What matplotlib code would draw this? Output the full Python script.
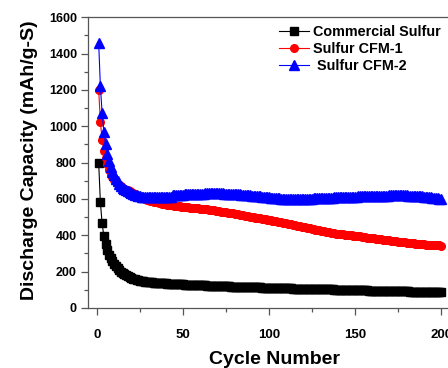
import matplotlib
matplotlib.use("Agg")
import matplotlib.pyplot as plt
from matplotlib.ticker import MultipleLocator

plt.rcParams['font.family'] = ['Liberation Sans', 'DejaVu Sans']
plt.rcParams['font.weight'] = 'bold'

cycles = list(range(1, 201))

commercial = [
    800, 582, 466, 396, 350, 318, 294, 274, 257, 243,
    230, 219, 209, 200, 193, 186, 180, 175, 170, 166,
    162, 159, 156, 153, 151, 149, 147, 145, 144, 143,
    142, 141, 140, 139, 138, 137, 137, 136, 135, 135,
    134, 134, 133, 133, 132, 132, 131, 131, 130, 130,
    129, 129, 128, 128, 127, 127, 126, 126, 125, 125,
    125, 124, 124, 123, 123, 123, 122, 122, 121, 121,
    121, 120, 120, 120, 119, 119, 119, 118, 118, 118,
    117, 117, 117, 116, 116, 116, 115, 115, 115, 114,
    114, 114, 113, 113, 113, 112, 112, 112, 111, 111,
    111, 110, 110, 110, 110, 109, 109, 109, 109, 108,
    108, 108, 108, 107, 107, 107, 107, 106, 106, 106,
    106, 105, 105, 105, 105, 104, 104, 104, 104, 103,
    103, 103, 103, 102, 102, 102, 102, 101, 101, 101,
    101, 100, 100, 100, 100, 99, 99, 99, 99, 98,
    98, 98, 98, 97, 97, 97, 97, 96, 96, 96,
    96, 95, 95, 95, 95, 94, 94, 94, 94, 93,
    93, 93, 93, 92, 92, 92, 92, 91, 91, 91,
    91, 90, 90, 90, 90, 89, 89, 89, 89, 89,
    88, 88, 88, 88, 88, 87, 87, 87, 87, 87,
]

cfm1 = [
    1202, 1025, 925, 865, 825, 790, 762, 740, 722, 706,
    694, 684, 676, 669, 663, 657, 652, 647, 642, 637,
    632, 626, 620, 615, 611, 607, 603, 600, 597, 594,
    591, 588, 586, 583, 581, 579, 577, 575, 573, 571,
    569, 568, 566, 565, 563, 562, 561, 559, 558, 557,
    556, 555, 554, 553, 552, 551, 550, 549, 548, 547,
    546, 545, 544, 543, 541, 540, 539, 537, 536, 534,
    533, 531, 530, 528, 527, 525, 524, 522, 521, 519,
    517, 516, 514, 512, 511, 509, 507, 505, 503, 502,
    500, 498, 497, 495, 493, 491, 490, 488, 486, 485,
    483, 481, 479, 478, 476, 474, 472, 470, 468, 466,
    464, 462, 460, 458, 456, 454, 452, 450, 448, 446,
    444, 442, 440, 438, 436, 434, 432, 430, 428, 426,
    424, 422, 420, 419, 417, 415, 414, 412, 410, 409,
    408, 407, 405, 404, 403, 402, 401, 400, 399, 398,
    396, 395, 394, 392, 391, 390, 388, 387, 386, 384,
    383, 382, 380, 379, 378, 377, 375, 374, 373, 372,
    370, 369, 368, 367, 366, 364, 363, 362, 361, 360,
    359, 358, 357, 356, 355, 354, 353, 352, 351, 350,
    349, 348, 347, 347, 346, 345, 345, 344, 344, 343,
]

cfm2 = [
    1460, 1220, 1075, 970, 900, 850, 808, 775, 750, 730,
    712, 697, 684, 673, 663, 655, 648, 642, 636, 631,
    627, 623, 620, 617, 615, 613, 612, 611, 610, 610,
    609, 609, 609, 609, 609, 610, 610, 610, 610, 611,
    611, 611, 612, 620, 621, 622, 622, 623, 624, 624,
    625, 625, 626, 626, 627, 627, 628, 628, 629, 629,
    630, 630, 631, 631, 631, 632, 632, 632, 632, 632,
    631, 631, 631, 630, 630, 629, 629, 628, 628, 627,
    626, 626, 625, 624, 623, 622, 622, 621, 620, 619,
    618, 617, 616, 615, 614, 613, 612, 611, 610, 609,
    608, 607, 606, 605, 604, 603, 602, 602, 601, 601,
    600, 600, 599, 599, 599, 599, 599, 599, 600, 600,
    600, 601, 601, 602, 602, 603, 603, 604, 604, 605,
    605, 606, 606, 607, 607, 608, 608, 609, 609, 610,
    610, 610, 611, 611, 611, 612, 612, 612, 613, 613,
    613, 614, 614, 614, 615, 615, 615, 616, 616, 616,
    617, 617, 617, 618, 618, 618, 619, 619, 619, 620,
    620, 620, 621, 621, 621, 621, 621, 620, 620, 620,
    619, 619, 618, 618, 617, 617, 616, 615, 614, 613,
    612, 611, 610, 609, 608, 607, 606, 604, 602, 598,
]

labels = ["Commercial Sulfur", "Sulfur CFM-1", " Sulfur CFM-2"]
xticks = [0, 50, 100, 150, 200]
yticks = [0, 200, 400, 600, 800, 1000, 1200, 1400, 1600]

W, H = 448, 368
fig = plt.figure(figsize=(W / 100, H / 100), dpi=100)
ax = fig.add_axes([88 / W, 60 / H, 372 / W, (308 - 17.3) / H])

ax.plot(cycles, commercial, color='black', marker='s', markersize=5.5, lw=0.8, label=labels[0])
ax.plot(cycles, cfm1, color='#ff0000', marker='o', markersize=5.5, lw=0.8, label=labels[1])
ax.plot(cycles, cfm2, color='#0000ff', marker='^', markersize=6.5, lw=0.8, label=labels[2])

ax.set_xlim(-5.2, 211)
ax.set_ylim(0, 1600)
ax.set_xticks(xticks)
ax.set_yticks(yticks)
ax.xaxis.set_minor_locator(MultipleLocator(25))
ax.yaxis.set_minor_locator(MultipleLocator(100))

spc = '#555555'
for s in ax.spines.values():
    s.set_color(spc)
    s.set_linewidth(0.9)

ax.tick_params(axis='x', which='major', direction='out', length=5, width=0.9, color=spc,
               labelsize=9.5, pad=10)
ax.tick_params(axis='x', which='minor', direction='out', length=3, width=0.9, color=spc)
ax.tick_params(axis='y', which='major', direction='out', length=5, width=0.9, color=spc,
               labelsize=9, pad=3)
ax.tick_params(axis='y', which='minor', direction='out', length=3, width=0.9, color=spc)
for t in ax.get_xticklabels() + ax.get_yticklabels():
    t.set_fontweight('bold')

ax.set_xlabel("Cycle Number", fontsize=14, fontweight='bold', va='top')
ax.xaxis.set_label_coords(0.5, -0.148)
ax.set_ylabel("Discharge Capacity (mAh/g-S)", fontsize=14, fontweight='bold')
ax.yaxis.set_label_coords(-0.135, 0.51)

leg = ax.legend(loc='upper left', bbox_to_anchor=(279 / W, 1 - 25 / H),
                bbox_transform=fig.transFigure, frameon=False, borderpad=0,
                borderaxespad=0, handlelength=2.1, handletextpad=0.25,
                labelspacing=0.2, prop={'size': 10.4, 'weight': 'bold'})

fig.savefig("out.png", dpi=100)
